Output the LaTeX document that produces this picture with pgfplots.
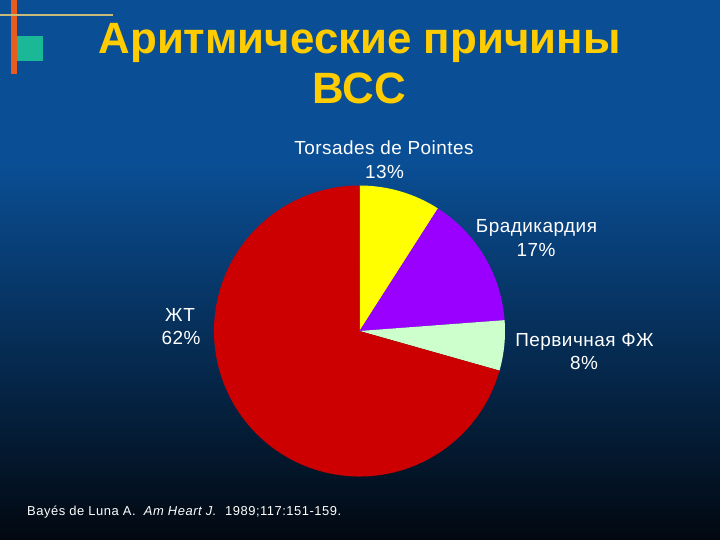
\documentclass[border=0pt]{standalone}
\usepackage{pgfplots}
\pgfplotsset{compat=1.18}
\usepackage{pgfplotstable}
\usepackage{fontspec}
\setmainfont{Liberation Sans}
\newfontfamily\labfont[LetterSpace=2.5]{Liberation Sans}
\newfontfamily\citefont[LetterSpace=4]{Liberation Sans}
\definecolor{bgtop}{RGB}{10,79,150}
\definecolor{bgmid}{RGB}{8,45,90}
\definecolor{bgbot}{RGB}{2,8,16}
\definecolor{pyellow}{RGB}{255,255,0}
\definecolor{ppurple}{RGB}{153,0,255}
\definecolor{pgreen}{RGB}{204,255,204}
\definecolor{pred}{RGB}{204,0,0}
\definecolor{ttlyellow}{RGB}{255,204,0}
\definecolor{barorange}{RGB}{232,92,30}
\definecolor{linetan}{RGB}{200,186,120}
\definecolor{sqteal}{RGB}{26,184,150}
% slice sizes as drawn (percent of the full circle), clockwise from 12 o'clock
\pgfplotstableread{
value col
9.06 pyellow
14.75 ppurple
5.58 pgreen
70.61 pred
}\slices
\begin{document}
\begin{tikzpicture}
\begin{axis}[x=1bp, y=1bp, xmin=0, xmax=720, ymin=0, ymax=540,
  hide axis, clip=false]
% background
\fill[bgtop] (axis cs:0,380) rectangle (axis cs:720,540);
\shade[top color=bgtop, middle color=bgmid, bottom color=bgbot]
  (axis cs:0,0) rectangle (axis cs:720,380.5);
% decorations
\fill[barorange] (axis cs:11,466) rectangle (axis cs:16.7,540);
\fill[linetan] (axis cs:0,524) rectangle (axis cs:113,526);
\fill[sqteal] (axis cs:16.7,479) rectangle (axis cs:43.3,504);
% pie
\def\startang{90}
\pgfplotstablegetrowsof{\slices}
\pgfmathtruncatemacro\lastrow{\pgfplotsretval-1}
\pgfplotsforeachungrouped \i in {0,...,\lastrow}{%
  \pgfplotstablegetelem{\i}{value}\of\slices
  \pgfmathsetmacro\endang{\startang-\pgfplotsretval*3.6}%
  \pgfplotstablegetelem{\i}{col}\of\slices
  \edef\slicecol{\pgfplotsretval}%
  \edef\doslice{\noexpand\fill[\slicecol] (axis cs:359.5,209) -- ++(\startang:145.5bp)
     arc[start angle=\startang, end angle=\endang, radius=145.5bp] -- cycle;}%
  \doslice
  \global\let\startang\endang
}
% title
\node[anchor=base, inner sep=0pt, text=ttlyellow, font=\fontsize{44}{50}\selectfont\bfseries] at (axis cs:359.5,486.7) {Аритмические причины};
\node[anchor=base, inner sep=0pt, text=ttlyellow, font=\fontsize{44}{50}\selectfont\bfseries] at (axis cs:359.5,436) {ВСС};
% slice labels
\tikzset{lab/.style={anchor=base, text=white, inner sep=0pt, font=\labfont\fontsize{19}{23}\selectfont}}
\node[lab] at (axis cs:384,385) {Torsades de Pointes};
\node[lab] at (axis cs:384.5,361.7) {13\%};
\node[lab] at (axis cs:536.5,307.3) {Брадикардия};
\node[lab] at (axis cs:536,283.3) {17\%};
\node[lab] at (axis cs:180,218.3) {ЖТ};
\node[lab] at (axis cs:181,195.7) {62\%};
\node[lab] at (axis cs:584.5,193.3) {Первичная ФЖ};
\node[lab] at (axis cs:584,170) {8\%};
% citation
\node[anchor=base west, text=white, inner sep=0pt, font=\citefont\fontsize{13}{15}\selectfont] at (axis cs:27,24) {Bayés de Luna A.\ \ \textit{Am Heart J.}\ \ 1989;117:151-159.};
\end{axis}
\end{tikzpicture}
\end{document}
